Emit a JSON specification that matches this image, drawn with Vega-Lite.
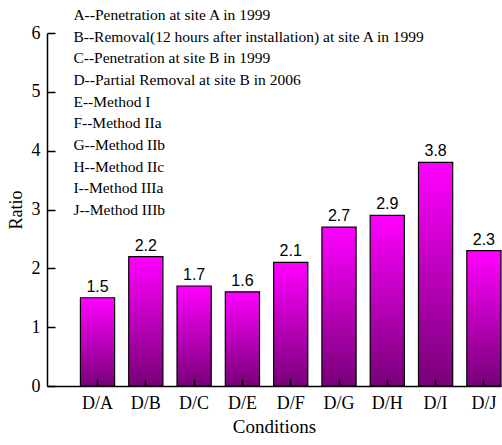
{
  "$schema": "https://vega.github.io/schema/vega-lite/v6.json",
  "autosize": {"type": "none"},
  "padding": {"left": 47, "top": 33, "right": 1, "bottom": 59},
  "width": 454,
  "height": 353,
  "background": "white",
  "config": {
    "view": {"stroke": null},
    "axis": {
      "labelFont": "Liberation Serif",
      "titleFont": "Liberation Serif",
      "labelColor": "black",
      "titleColor": "black",
      "domainColor": "black",
      "tickColor": "black",
      "domainWidth": 1.5,
      "tickWidth": 1.5,
      "grid": false,
      "titleFontWeight": "normal"
    }
  },
  "datasets": {
    "bars": [
      {"condition": "D/A", "ratio": 1.5},
      {"condition": "D/B", "ratio": 2.2},
      {"condition": "D/C", "ratio": 1.7},
      {"condition": "D/E", "ratio": 1.6},
      {"condition": "D/F", "ratio": 2.1},
      {"condition": "D/G", "ratio": 2.7},
      {"condition": "D/H", "ratio": 2.9},
      {"condition": "D/I", "ratio": 3.8},
      {"condition": "D/J", "ratio": 2.3}
    ],
    "notes": [
      {"key": "A", "text": "A--Penetration at site A in 1999"},
      {"key": "B", "text": "B--Removal(12 hours after installation) at site A in 1999"},
      {"key": "C", "text": "C--Penetration at site B in 1999"},
      {"key": "D", "text": "D--Partial Removal at site B in 2006"},
      {"key": "E", "text": "E--Method I"},
      {"key": "F", "text": "F--Method IIa"},
      {"key": "G", "text": "G--Method IIb"},
      {"key": "H", "text": "H--Method IIc"},
      {"key": "I", "text": "I--Method IIIa"},
      {"key": "J", "text": "J--Method IIIb"}
    ]
  },
  "layer": [
    {
      "data": {"name": "bars"},
      "layer": [
        {
          "mark": {
            "type": "bar",
            "stroke": "black",
            "strokeWidth": 1.2,
            "color": {
              "gradient": "linear",
              "x1": 0, "y1": 0, "x2": 0, "y2": 1,
              "stops": [
                {"offset": 0, "color": "#ff00ff"},
                {"offset": 1, "color": "#780078"}
              ]
            }
          },
          "encoding": {
            "x": {
              "field": "condition",
              "type": "nominal",
              "sort": null,
              "scale": {"paddingInner": 0.292, "paddingOuter": 0.346, "align": 1},
              "axis": {
                "title": "Conditions",
                "labelAngle": 0,
                "labelFontSize": 18,
                "titleFontSize": 19,
                "tickSize": -7,
                "labelPadding": 15,
                "titlePadding": 5,
                "zindex": 1
              }
            },
            "y": {
              "field": "ratio",
              "type": "quantitative",
              "scale": {"domain": [0, 6], "nice": false},
              "axis": {
                "title": "Ratio",
                "format": "d",
                "values": [0, 1, 2, 3, 4, 5, 6],
                "labelFontSize": 18,
                "titleFontSize": 18,
                "tickSize": -8,
                "labelPadding": 15,
                "titlePadding": 6,
                "zindex": 1
              }
            }
          }
        },
        {
          "mark": {"type": "text", "font": "Liberation Sans", "fontSize": 16, "baseline": "bottom", "dy": -3, "color": "black"},
          "encoding": {
            "x": {"field": "condition", "type": "nominal", "sort": null},
            "y": {"field": "ratio", "type": "quantitative"},
            "text": {"field": "ratio", "type": "quantitative", "format": ".1f"}
          }
        }
      ]
    },
    {
      "data": {"name": "notes"},
      "mark": {"type": "text", "font": "Liberation Serif", "fontSize": 15.5, "align": "left", "baseline": "middle", "dx": -7, "color": "black"},
      "encoding": {
        "x": {"datum": "D/A", "type": "nominal", "bandPosition": 0},
        "y": {
          "field": "key",
          "type": "ordinal",
          "scale": {"type": "point", "range": [-18, 177], "padding": 0},
          "axis": null
        },
        "text": {"field": "text", "type": "nominal"}
      }
    }
  ],
  "resolve": {"scale": {"y": "independent"}}
}
